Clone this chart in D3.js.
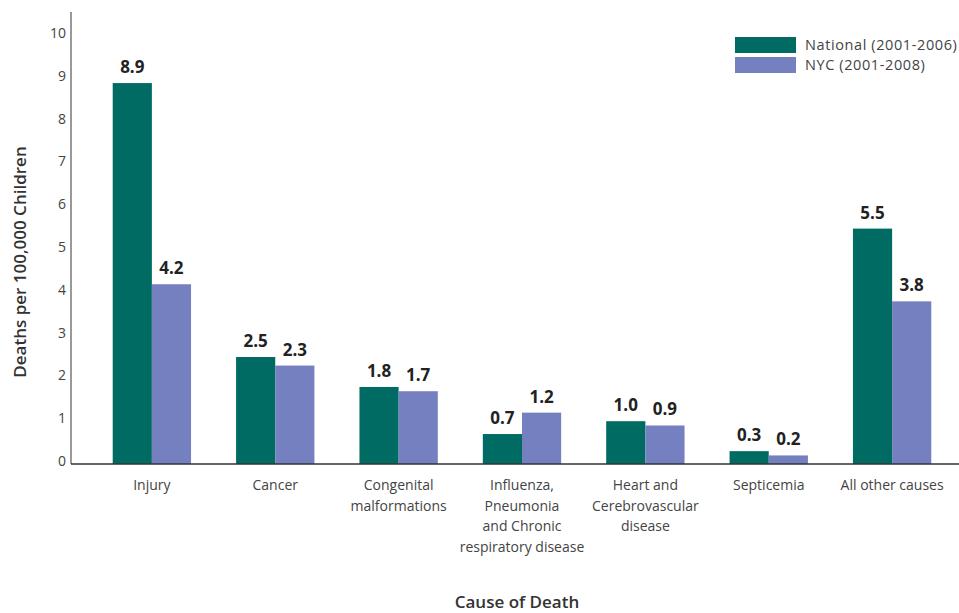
<!DOCTYPE html>
<html>
<head>
<meta charset="utf-8">
<script src="https://cdn.jsdelivr.net/npm/d3@7"></script>
<style>
  body { margin: 0; background: #fff; }
  text { font-family: "Open Sans", "DejaVu Sans", sans-serif; }
</style>
</head>
<body>
<script>
// chart values
var causes = ["Injury", "Cancer", "Congenital malformations",
    "Influenza, Pneumonia and Chronic respiratory disease",
    "Heart and Cerebrovascular disease", "Septicemia", "All other causes"];
var causeLines = [["Injury"], ["Cancer"], ["Congenital", "malformations"],
    ["Influenza,", "Pneumonia", "and Chronic", "respiratory disease"],
    ["Heart and", "Cerebrovascular", "disease"], ["Septicemia"], ["All other causes"]];
var national = [8.9, 2.5, 1.8, 0.7, 1.0, 0.3, 5.5];
var nyc = [4.2, 2.3, 1.7, 1.2, 0.9, 0.2, 3.8];
var seriesNames = ["National (2001-2006)", "NYC (2001-2008)"];
var colors = ["#006b63", "#7480bf"];
var yTicks = [0, 1, 2, 3, 4, 5, 6, 7, 8, 9, 10];

var W = 959, H = 613;
var svg = d3.select("body").append("svg")
    .attr("width", W)
    .attr("height", H);

var x = d3.scaleBand()
    .domain(causes)
    .range([90.5, 953.5])
    .paddingInner(0.365)
    .paddingOuter(0.18);

var xs = d3.scaleBand()
    .domain([0, 1])
    .range([0, x.bandwidth()]);

var y = d3.scaleLinear()
    .domain([0, 10])
    .range([464, 36]);

// y axis line and tick labels
svg.append("line")
    .attr("x1", 71).attr("x2", 71)
    .attr("y1", 12).attr("y2", 464)
    .attr("stroke", "#777").attr("stroke-width", 1.5);

svg.selectAll(".ytick")
    .data(yTicks)
    .enter().append("text")
    .attr("class", "ytick")
    .attr("x", 66)
    .attr("y", function(d) { return y(d) - 3; })
    .attr("dy", "0.35em")
    .attr("text-anchor", "end")
    .attr("font-size", 14)
    .attr("fill", "#444")
    .text(function(d) { return d; });

// bars
var groups = svg.selectAll(".grp")
    .data(causes)
    .enter().append("g")
    .attr("class", "grp")
    .attr("transform", function(d) { return "translate(" + x(d) + ",0)"; });

var rows = causes.map(function(c, i) { return [national[i], nyc[i]]; });

groups.selectAll("rect")
    .data(function(d, i) { return rows[i]; })
    .enter().append("rect")
    .attr("x", function(d, j) { return xs(j); })
    .attr("width", xs.bandwidth())
    .attr("y", function(d) { return y(d); })
    .attr("height", function(d) { return y(0) - y(d); })
    .attr("fill", function(d, j) { return colors[j]; });

groups.selectAll(".val")
    .data(function(d, i) { return rows[i]; })
    .enter().append("text")
    .attr("class", "val")
    .attr("x", function(d, j) { return xs(j) + xs.bandwidth() / 2; })
    .attr("y", function(d) { return y(d) - 10; })
    .attr("text-anchor", "middle")
    .attr("font-size", 17)
    .attr("font-weight", "bold")
    .attr("fill", "#222")
    .text(function(d) { return d.toFixed(1); });

// baseline
svg.append("line")
    .attr("x1", 71).attr("x2", W)
    .attr("y1", 464).attr("y2", 464)
    .attr("stroke", "#333").attr("stroke-width", 1.5);

// category labels
groups.append("text")
    .attr("text-anchor", "middle")
    .attr("font-size", 14)
    .attr("fill", "#444")
    .selectAll("tspan")
    .data(function(d, i) { return causeLines[i]; })
    .enter().append("tspan")
    .attr("x", x.bandwidth() / 2)
    .attr("y", function(d, k) { return 490 + k * 20.5; })
    .text(function(d) { return d; });

// axis titles
svg.append("text")
    .attr("transform", "translate(26,262) rotate(-90)")
    .attr("text-anchor", "middle")
    .attr("font-size", 17)
    .attr("font-weight", 600)
    .attr("fill", "#333")
    .text("Deaths per 100,000 Children");

svg.append("text")
    .attr("x", 517)
    .attr("y", 608)
    .attr("text-anchor", "middle")
    .attr("font-size", 17)
    .attr("font-weight", 600)
    .attr("fill", "#333")
    .text("Cause of Death");

// legend
var legend = svg.selectAll(".leg")
    .data(seriesNames)
    .enter().append("g")
    .attr("class", "leg")
    .attr("transform", function(d, i) { return "translate(735," + (37 + i * 20) + ")"; });

legend.append("rect")
    .attr("width", 61)
    .attr("height", 16)
    .attr("fill", function(d, i) { return colors[i]; });

legend.append("text")
    .attr("x", 70)
    .attr("y", 8)
    .attr("dy", "0.35em")
    .attr("font-size", 14.5)
    .attr("letter-spacing", 0.6)
    .attr("fill", "#444")
    .text(function(d) { return d; });
</script>
</body>
</html>
